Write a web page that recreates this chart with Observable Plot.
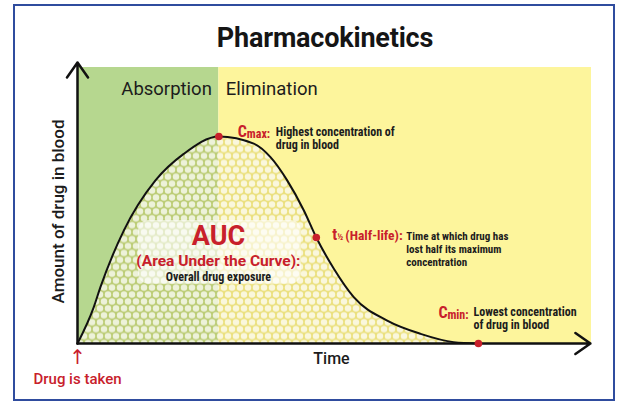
<!DOCTYPE html>
<html>
<head>
<meta charset="utf-8">
<script src="https://cdn.jsdelivr.net/npm/d3@7"></script>
<script src="https://cdn.jsdelivr.net/npm/@observablehq/plot@0.6"></script>
<style>
  html, body { margin: 0; padding: 0; background: #fff; }
  #wrap { position: relative; width: 618px; height: 401px; overflow: hidden; font-family: Roboto, "Noto Sans", sans-serif; }
  #frame { position: absolute; left: 13px; top: 4px; width: 598px; height: 393px; border: 2px solid #2f4c9e; box-sizing: content-box; pointer-events: none; }
  #title { position: absolute; left: 16px; width: 618px; top: 22px; text-align: center; font-size: 27px; font-weight: 700; color: #151515; letter-spacing: -0.2px; line-height: 32px; }
  #chart { position: absolute; left: 0; top: 0; }
</style>
</head>
<body>
<div id="wrap">
  <div id="chart"></div>
  <div id="title">Pharmacokinetics</div>
  <div id="frame"></div>
</div>
<script>
// ---- data (time in hours, amount as % scale) ----
const curveTime   = [0, 0.76, 1.07, 2.16, 3.64, 4.96, 6.60, 8.23, 9.01, 9.79, 10.57, 11.15, 11.97, 12.90, 14.46, 16.02, 17.56, 18.72];
const curveAmount = [0, 13.2, 20.4, 40.9, 59.1, 68.7, 75.0, 72.4, 67.5, 59.1, 48.2, 38.4, 27.1, 16.8, 8.3, 3.5, 0.5, 0];

const phaseNames  = ["Absorption", "Elimination"];
const phaseStart  = [0, 6.60];
const phaseEnd    = [6.60, 24];
const phaseColors = ["#b6d78f", "#fdf59c"];

const keyNames = ["Cmax", "Half-life", "Cmin"];
const keyTime  = [6.60, 11.15, 18.72];
const keyAmount = [75.0, 38.4, 0];

const keySymbol = ["C", "t", "C"];
const keySub    = ["max:", "½", "min:"];
const keyTag    = ["", "(Half-life):", ""];
const keyDesc   = ["Highest concentration of\ndrug in blood",
                   "Time at which drug has\nlost half its maximum\nconcentration",
                   "Lowest concentration\nof drug in blood"];

const aucTitle = "AUC";
const aucSubtitle = "(Area Under the Curve):";
const aucNote = "Overall drug exposure";
const aucLabelTime = [6.58];
const aucLabelAmount = [38.4];
const aucBoxTime = [2.85, 10.45];
const aucBoxAmount = [21.5, 44.6];

const xLabel = "Time";
const yLabel = "Amount of drug in blood";
const doseLabel = "Drug is taken";
const xMax = 24, yMax = 100, yArrowTip = 101.8, xArrowTip = 23.95;

// ---- tables built from arrays ----
const curve = curveTime.map((t, i) => ({t, c: curveAmount[i]}));
const phases = phaseNames.map((name, i) => ({name, start: phaseStart[i], end: phaseEnd[i], color: phaseColors[i]}));
const keys = keyNames.map((name, i) => ({name, t: keyTime[i], c: keyAmount[i], sym: keySymbol[i], sub: keySub[i], tag: keyTag[i], desc: keyDesc[i]}));
const aucLabel = [{t: aucLabelTime[0], c: aucLabelAmount[0]}];
const aucBox = [{t1: aucBoxTime[0], t2: aucBoxTime[1], c1: aucBoxAmount[0], c2: aucBoxAmount[1]}];
const origin = [{t: 0, c: 0}];

const RED = "#c8202b";
const DARK = "#1c1c1c";
const NARROW = "Roboto Condensed, Roboto, sans-serif";

// Offsets for labels next to each key point
const off = {
  "Cmax":      {sx: 19, sy: -5, bx: 28, by: -2, tx: 0, ty: 0, dx: 57, dy: 2, lh: 1.07, fs: 12},
  "Half-life": {sx: 16, sy: -3, bx: 21, by: 0,  tx: 29, ty: -2, dx: 90, dy: 11, lh: 1.2, fs: 11},
  "Cmin":      {sx: -40, sy: -31, bx: -31, by: -28, tx: 0, ty: 0, dx: -5, dy: -25, lh: 1.07, fs: 12}
};

const marks = [
  Plot.rect(phases, {x1: "start", x2: "end", y1: 0, y2: yMax, fill: "color"}),
  Plot.areaY(curve, {x: "t", y: "c", fill: "url(#auc-dots)", curve: "monotone-x"}),
  Plot.rect(aucBox, {x1: "t1", x2: "t2", y1: "c1", y2: "c2", fill: "white", fillOpacity: 0.6, rx: 10}),
  Plot.line(curve, {x: "t", y: "c", stroke: "#111", strokeWidth: 2, curve: "monotone-x"}),
  Plot.arrow([{x1: 0, y1: 0, x2: 0, y2: yArrowTip}], {x1: "x1", y1: "y1", x2: "x2", y2: "y2", stroke: "#111", strokeWidth: 2.5, headLength: 11, headAngle: 70}),
  Plot.arrow([{x1: 0, y1: 0, x2: xArrowTip, y2: 0}], {x1: "x1", y1: "y1", x2: "x2", y2: "y2", stroke: "#111", strokeWidth: 2.5, headLength: 11, headAngle: 70}),
  Plot.dot(keys, {x: "t", y: "c", r: 3.8, fill: RED}),
  // phase labels
  Plot.text(phases.slice(0, 1), {x: "end", y: yMax, text: "name", textAnchor: "end", dx: -7, dy: 22, fontSize: 18.5, fill: DARK, fontFamily: "Roboto"}),
  Plot.text(phases.slice(1), {x: "start", y: yMax, text: "name", textAnchor: "start", dx: 7, dy: 22, fontSize: 18.5, fill: DARK, fontFamily: "Roboto"}),
  // AUC label
  Plot.text(aucLabel, {x: "t", y: "c", text: () => aucTitle, dy: -1, fontSize: 27, fontWeight: 700, fill: RED, fontFamily: "Roboto"}),
  Plot.text(aucLabel, {x: "t", y: "c", text: () => aucSubtitle, dy: 24, fontSize: 15.5, fontWeight: 700, fill: RED, fontFamily: "Roboto"}),
  Plot.text(aucLabel, {x: "t", y: "c", text: () => aucNote, dy: 40, fontSize: 12, fontWeight: 700, fill: DARK, fontFamily: NARROW}),
  // axis labels
  Plot.text([yLabel], {frameAnchor: "left", text: d => d, textAnchor: "middle", rotate: -90, dx: -19, dy: 6, fontSize: 17, fontWeight: 500, fill: DARK, fontFamily: "Roboto"}),
  Plot.text([xLabel], {frameAnchor: "bottom", text: d => d, dx: -3, dy: 20, fontSize: 16, fontWeight: 500, fill: DARK, fontFamily: "Roboto"}),
  Plot.text(origin, {x: "t", y: "c", text: () => "↑", dy: 14, fontSize: 20, fontWeight: 500, fill: RED, fontFamily: "DejaVu Sans"}),
  Plot.text(origin, {x: "t", y: "c", text: () => doseLabel, dy: 36, fontSize: 15, fontWeight: 500, fill: RED, fontFamily: "Roboto"})
];

for (const k of keys) {
  const o = off[k.name];
  marks.push(Plot.text([k], {x: "t", y: "c", text: "sym", textAnchor: "start", dx: o.sx, dy: o.sy, fontSize: 16, fontWeight: 700, fill: RED, fontFamily: NARROW}));
  marks.push(Plot.text([k], {x: "t", y: "c", text: "sub", textAnchor: "start", dx: o.bx, dy: o.by, fontSize: k.name === "Half-life" ? 9 : 12, fontWeight: 700, fill: RED, fontFamily: NARROW}));
  if (k.tag) marks.push(Plot.text([k], {x: "t", y: "c", text: "tag", textAnchor: "start", dx: o.tx, dy: o.ty, fontSize: 13.5, fontWeight: 700, fill: RED, fontFamily: NARROW}));
  marks.push(Plot.text([k], {x: "t", y: "c", text: "desc", textAnchor: "start", dx: o.dx, dy: o.dy, lineHeight: o.lh, fontSize: o.fs, fontWeight: 700, fill: DARK, fontFamily: NARROW}));
}

const chart = Plot.plot({
  width: 618,
  height: 401,
  marginTop: 67,
  marginBottom: 58,
  marginLeft: 77,
  marginRight: 27,
  x: {domain: [0, xMax], axis: null},
  y: {domain: [0, yMax], axis: null},
  style: {background: "transparent", overflow: "visible"},
  marks
});

// hexagonal dot pattern for the area under the curve
const ns = "http://www.w3.org/2000/svg";
const defs = document.createElementNS(ns, "defs");
defs.innerHTML = `
  <pattern id="auc-dots" width="8" height="13.86" patternUnits="userSpaceOnUse">
    <rect width="8" height="13.86" fill="rgba(200,185,70,0.34)"/>
    <circle cx="4" cy="3.46" r="3.2" fill="rgba(255,255,255,0.72)"/>
    <circle cx="0" cy="10.39" r="3.2" fill="rgba(255,255,255,0.72)"/>
    <circle cx="8" cy="10.39" r="3.2" fill="rgba(255,255,255,0.72)"/>
  </pattern>`;
chart.insertBefore(defs, chart.firstChild);
document.getElementById("chart").appendChild(chart);
</script>
</body>
</html>
